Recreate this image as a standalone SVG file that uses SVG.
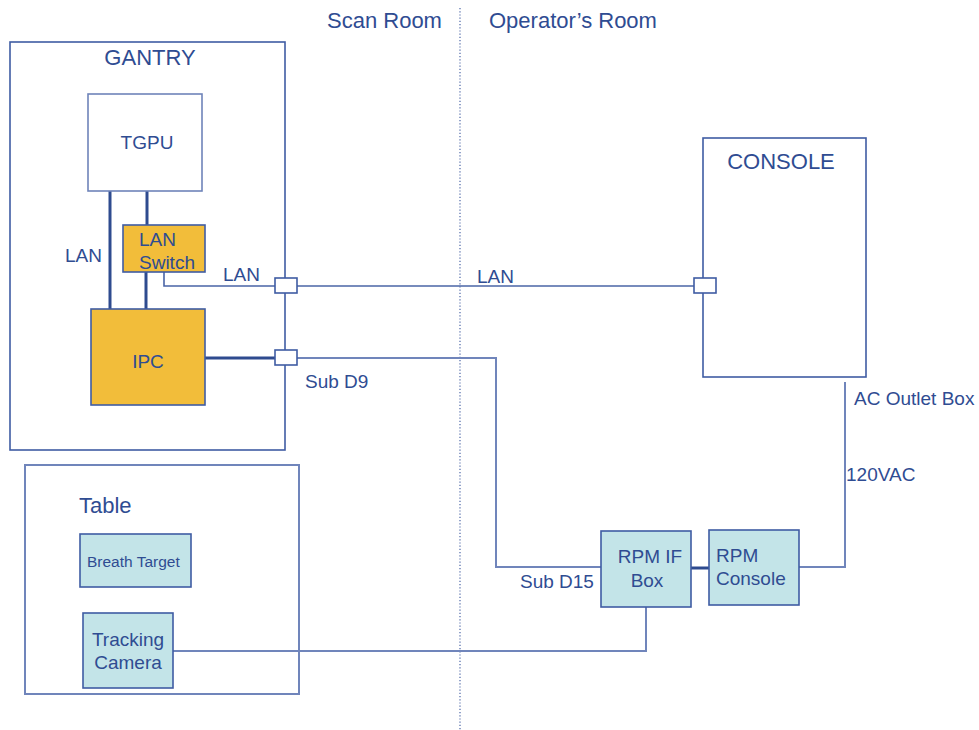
<svg xmlns="http://www.w3.org/2000/svg" width="979" height="730" viewBox="0 0 979 730">
<style>
text{font-family:"Liberation Sans",Arial,sans-serif;fill:#2f4c92;font-size:19px}
.t{font-size:22px}
.box{fill:#fff;stroke:#3f5ca3;stroke-width:1.6}
.org{fill:#f2bd3a;stroke:#3f5ca3;stroke-width:1.6}
.cy{fill:#c3e4e8;stroke:#3f5ca3;stroke-width:1.6}
.thick{fill:none;stroke:#2e4b8f;stroke-width:3}
.thin{fill:none;stroke:#4a64a6;stroke-width:1.6}
.lite{fill:none;stroke:#7085bb;stroke-width:2}
.conn{fill:#fff;stroke:#3f5ca3;stroke-width:1.6}
</style>
<rect width="979" height="730" fill="#fff"/>
<g id="divider">
<line x1="460" y1="8" x2="460" y2="730" stroke="#4a64a6" stroke-width="1.2" stroke-dasharray="1.2,2"/>
<text x="327" y="28" class="t">Scan Room</text>
<text x="489" y="28" class="t">Operator’s Room</text>
</g>
<g id="gantry">
<rect x="10" y="42" width="275" height="408" class="box"/>
<text x="150" y="65" class="t" text-anchor="middle">GANTRY</text>
</g>
<g id="table">
<rect x="25" y="465" width="274" height="229" class="lite" style="fill:#fff"/>
<text x="79" y="513" class="t">Table</text>
</g>
<g id="connectors">
<line x1="110" y1="191" x2="110" y2="309" class="thick"/>
<line x1="147" y1="191" x2="147" y2="225" class="thick"/>
<line x1="146" y1="272" x2="146" y2="309" class="thick"/>
<polyline points="164,272 164,286 275,286" class="thin"/>
<line x1="205" y1="358" x2="275" y2="358" class="thick"/>
<line x1="297" y1="286" x2="694" y2="286" class="thin"/>
<polyline points="297,358 496,358 496,567 601,567" class="lite"/>
<line x1="691" y1="568" x2="709" y2="568" class="thick"/>
<polyline points="799,567 845,567 845,382" class="lite"/>
<polyline points="646,607 646,651 173,651" class="lite"/>
<text x="65" y="262">LAN</text>
<text x="223" y="281">LAN</text>
<text x="477" y="283">LAN</text>
<text x="305" y="388">Sub D9</text>
<text x="520" y="588">Sub D15</text>
<text x="854" y="405">AC Outlet Box</text>
<text x="846" y="481">120VAC</text>
</g>
<g id="tgpu">
<rect x="88" y="94" width="114" height="97" class="box" style="stroke:#6f84ba"/>
<text x="147" y="149" text-anchor="middle">TGPU</text>
</g>
<g id="lan-switch">
<rect x="123" y="225" width="82" height="47" class="org"/>
<text x="139" y="246">LAN</text>
<text x="139" y="269">Switch</text>
</g>
<g id="ipc">
<rect x="91" y="309" width="114" height="96" class="org"/>
<text x="148" y="368" text-anchor="middle">IPC</text>
</g>
<g id="port-lan">
<rect x="275" y="278" width="22" height="15" class="conn"/>
</g>
<g id="port-subd9">
<rect x="275" y="350" width="22" height="15" class="conn"/>
</g>
<g id="console">
<rect x="703" y="138" width="163" height="239" class="box"/>
<text x="781" y="169" class="t" text-anchor="middle">CONSOLE</text>
<rect x="694" y="278" width="22" height="15" class="conn"/>
</g>
<g id="rpm-if-box">
<rect x="601" y="531" width="90" height="76" class="cy"/>
<text x="650" y="563" text-anchor="middle">RPM IF</text>
<text x="647" y="587" text-anchor="middle">Box</text>
</g>
<g id="rpm-console">
<rect x="709" y="530" width="90" height="75" class="cy"/>
<text x="716" y="562">RPM</text>
<text x="716" y="585">Console</text>
</g>
<g id="breath-target">
<rect x="80" y="534" width="111" height="53" class="cy"/>
<text x="87" y="567" style="font-size:15.5px">Breath Target</text>
</g>
<g id="tracking-camera">
<rect x="83" y="613" width="90" height="75" class="cy"/>
<text x="128" y="646" text-anchor="middle">Tracking</text>
<text x="128" y="669" text-anchor="middle">Camera</text>
</g>
</svg>
